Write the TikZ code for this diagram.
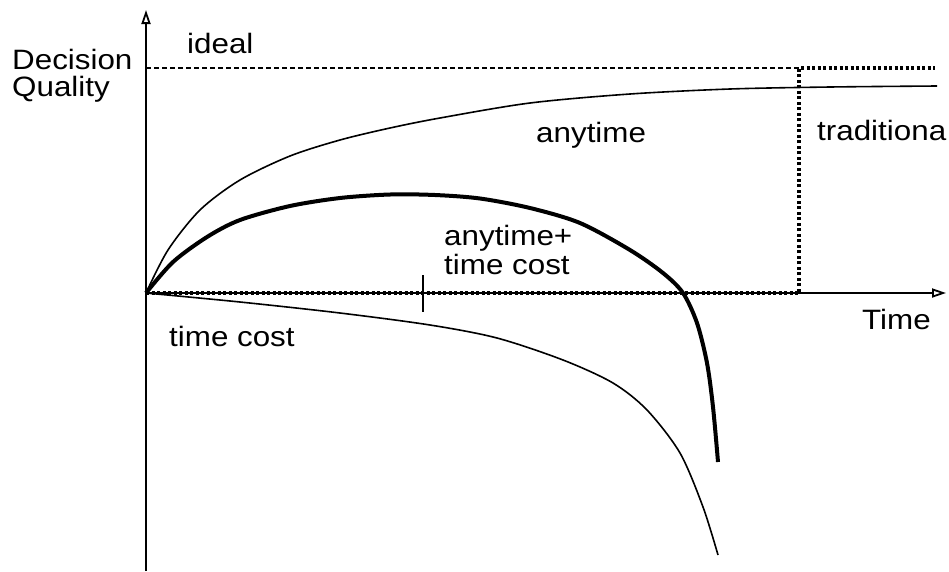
\documentclass[tikz,border=0pt]{standalone}
\usepackage{fontspec}
\setmainfont{Liberation Sans}[FakeStretch=1.12]
\usetikzlibrary{arrows.meta}

\begin{document}
\begin{tikzpicture}[x=1pt, y=-1pt,
  axis/.style={line width=2pt, -{Triangle[open, length=14pt, width=9pt, line width=1.8pt]}},
  curve/.style={line width=1.6pt},
  boldcurve/.style={line width=4pt},
  lbl/.style={anchor=base west, inner sep=0pt, font=\fontsize{28}{29}\selectfont, align=left}]

\useasboundingbox (0,0) rectangle (949,571);

%draw the axes
\draw[axis] (146,571) -- (146,10);
\draw[axis] (146,293) -- (946,293);

%ideal and traditional
\draw[line width=1.5pt, dash pattern=on 4.5pt off 3.5pt] (146,68) -- (799,68);
\draw[line width=3.5pt, dash pattern=on 3pt off 2.5pt] (146,293) -- (799,293) -- (799,68) -- (935,68);

%anytime
\draw[curve] plot[smooth, tension=0.5] coordinates {(146,293) (168,250) (200,210) (240,180) (290,156) (340,140) (390,128) (440,118) (530,103) (630,94) (730,89) (830,87) (937,86)};

%anytime plus time cost
\draw[boldcurve] plot[smooth, tension=0.5] coordinates {(146,293) (173,262) (207,237) (240,220) (290,206) (340,198) (390,194.5) (435,195) (480,198.5) (530,208) (580,223) (630,250) (663,273) (683,293) (697,323) (707,363) (713,407) (718,462)};

%time cost
\draw[curve] plot[smooth, tension=0.5] coordinates {(146,293) (240,302) (340,313) (430,325) (497,338) (563,360) (613,383) (647,410) (680,453) (703,507) (718,555)};

%tick
\draw[curve] (423,275) -- (423,312);

%labels
\node[lbl] (ideal) at (187,53) {ideal};
\node[lbl, font=\fontsize{28}{26.5}\selectfont] (quality) at (12,96) {Decision\\Quality};
\node[lbl] (anytime) at (536,142) {anytime};
\node[lbl] (traditional) at (817,140) {traditiona};
\node[lbl] (anytimecost) at (444,274) {anytime+\\time cost};
\node[lbl] (timecost) at (169,346) {time cost};
\node[lbl] (time) at (862,329) {Time};

\end{tikzpicture}
\end{document}
